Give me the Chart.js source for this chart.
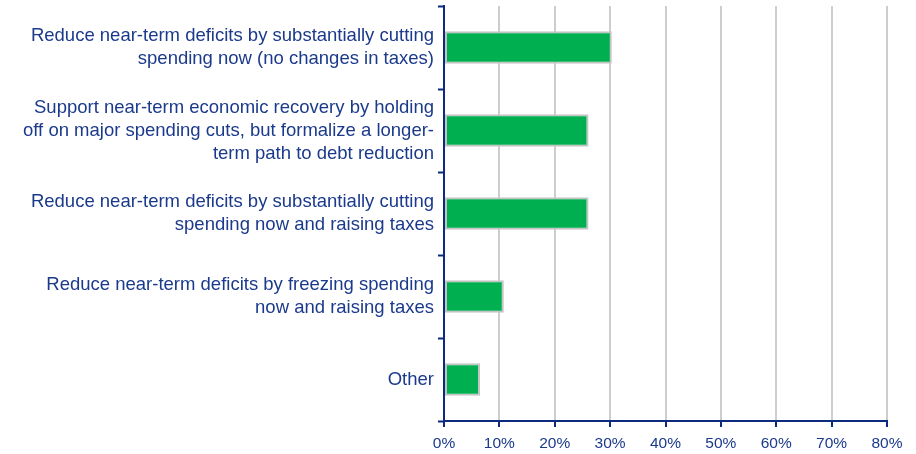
<!DOCTYPE html>
<html>
<head>
<meta charset="utf-8">
<script src="https://cdn.jsdelivr.net/npm/chart.js@4"></script>
<style>
  html, body { margin: 0; padding: 0; background: #fff; }
  #wrap { width: 916px; height: 454px; position: relative; }
</style>
</head>
<body>
<div id="wrap"><canvas id="chart"></canvas></div>
<script>
// survey options, each label split into display lines
const options = [
  ['Reduce near-term deficits by substantially cutting', 'spending now (no changes in taxes)'],
  ['Support near-term economic recovery by holding', 'off on major spending cuts, but formalize a longer-', 'term path to debt reduction'],
  ['Reduce near-term deficits by substantially cutting', 'spending now and raising taxes'],
  ['Reduce near-term deficits by freezing spending', 'now and raising taxes'],
  ['Other']
];
const shares = [30.3, 26.1, 26.1, 10.8, 6.5];
const axisMin = 0, axisMax = 80, axisStep = 10;

const navy = '#1b3a8c';
const axisNavy = '#0c2a7e';
const gridGray = '#cdcdcd';

new Chart(document.getElementById('chart'), {
  type: 'bar',
  data: {
    labels: options,
    datasets: [{
      data: shares,
      backgroundColor: '#00b050',
      borderColor: '#c4c4c4',
      borderWidth: 2,
      borderSkipped: false,
      categoryPercentage: 1,
      barPercentage: 0.39
    }]
  },
  options: {
    indexAxis: 'y',
    responsive: true,
    maintainAspectRatio: false,
    animation: false,
    layout: { padding: { top: 6, right: 29, bottom: 0, left: 0 } },
    plugins: { legend: { display: false }, tooltip: { enabled: false } },
    scales: {
      x: {
        min: axisMin, max: axisMax,
        ticks: {
          stepSize: axisStep,
          color: navy,
          font: { family: 'Liberation Sans, Arial, sans-serif', size: 15.5 },
          padding: 7,
          callback: v => v + '%'
        },
        grid: { color: gridGray, lineWidth: 2, tickColor: axisNavy, tickLength: 6, tickWidth: 2 },
        border: { color: axisNavy, width: 2 },
        afterFit: s => { s.height = 33; }
      },
      y: {
        ticks: {
          color: navy,
          font: { family: 'Liberation Sans, Arial, sans-serif', size: 18.5, lineHeight: 1.24 },
          padding: 4,
          crossAlign: 'near'
        },
        grid: { offset: true, drawOnChartArea: false, tickColor: axisNavy, tickLength: 6, tickWidth: 2 },
        border: { color: axisNavy, width: 2 },
        // fixed label column; no extra room above/below for the multi-line labels
        afterFit: s => { s.width = 444; s.paddingTop = 0; s.paddingBottom = 0; }
      }
    }
  }
});
</script>
</body>
</html>
